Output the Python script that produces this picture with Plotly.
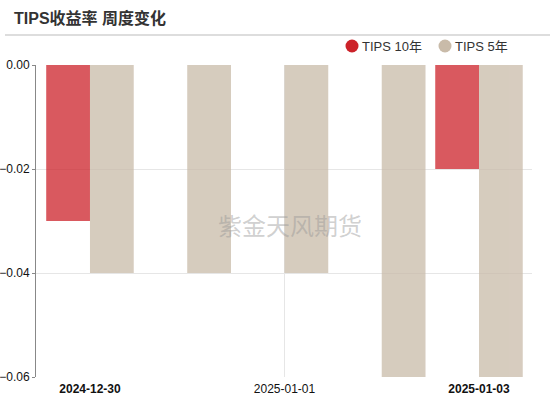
import plotly.graph_objects as go

categories = ["2024-12-30", "2024-12-31", "2025-01-01", "2025-01-02", "2025-01-03"]
tips10 = [-0.03, 0.0, 0.0, 0.0, -0.02]
tips5 = [-0.04, -0.04, -0.04, -0.06, -0.06]
series_names = ["TIPS 10年", "TIPS 5年"]
x_tickvals = ["2024-12-30", "2025-01-01", "2025-01-03"]
x_ticktext = ["<b>2024-12-30</b>", "2025-01-01", "<b>2025-01-03</b>"]
y_tickvals = [0, -0.02, -0.04, -0.06]

red = "#cc2229"
beige = "#c9bba9"
font_family = "Liberation Sans, Arial, Noto Sans CJK SC, sans-serif"

W, H = 550, 399
L, R, T, B = 36, 18, 65, 22
PW, PH = W - L - R, H - T - B


def px(x):
    return (x - L) / PW


def py(y):
    return (H - B - y) / PH


fig = go.Figure()
fig.add_trace(go.Bar(x=categories, y=tips10, name=series_names[0], marker=dict(color=red, line=dict(width=0)),
                     opacity=0.75, showlegend=False))
fig.add_trace(go.Bar(x=categories, y=tips5, name=series_names[1], marker=dict(color=beige, line=dict(width=0)),
                     opacity=0.75, showlegend=False))

shapes = [
    dict(type="line", xref="x", yref="paper", x0=categories[2], x1=categories[2], y0=0, y1=1,
         line=dict(color="#e6e6e6", width=1), layer="below"),
    dict(type="line", xref="paper", yref="paper", x0=px(5), x1=px(550), y0=py(35), y1=py(35),
         line=dict(color="#bbbbbb", width=1)),
]
annotations = [dict(text="紫金天风期货", xref="paper", yref="paper", x=px(290), y=py(224),
                    showarrow=False, font=dict(size=24, color="rgba(150,150,150,0.45)",
                                               family="Noto Sans CJK SC, sans-serif"))]

# manual legend: circle markers + text
legend_items = [(series_names[0], red, 352, 360), (series_names[1], beige, 445, 453)]
for name, col, cx, tx in legend_items:
    r = 6.5
    shapes.append(dict(type="circle", xref="paper", yref="paper", x0=px(cx - r), x1=px(cx + r),
                       y0=py(46 + r), y1=py(46 - r), fillcolor=col, line=dict(width=0)))
    annotations.append(dict(text=name, xref="paper", yref="paper", x=px(tx), y=py(46), xanchor="left",
                            yanchor="middle", showarrow=False, font=dict(size=13, color="#333")))

fig.update_layout(
    width=W, height=H,
    margin=dict(l=L, r=R, t=T, b=B),
    paper_bgcolor="white", plot_bgcolor="white",
    barmode="group", bargap=0.1, bargroupgap=0,
    showlegend=False,
    font=dict(family=font_family, size=12, color="#333"),
    title=dict(text="<b>TIPS收益率 周度变化</b>", x=14 / W, xanchor="left", y=1 - 18 / H, yanchor="middle",
               font=dict(size=16, color="#333", family=font_family)),
    xaxis=dict(type="category", range=[-0.555, 4.545], tickmode="array", tickvals=x_tickvals,
               ticktext=x_ticktext, showgrid=False, showline=False, ticks="", automargin=False,
               ticklabelstandoff=3, tickfont=dict(size=12, color="#111")),
    yaxis=dict(range=[-0.06, 0], tickvals=y_tickvals, tickformat=".2f", showgrid=True,
               gridcolor="#e6e6e6", zeroline=False, showline=True, linecolor="#888", linewidth=1,
               ticks="outside", ticklen=3, tickcolor="#888", automargin=False,
               tickfont=dict(size=12, color="#111")),
    shapes=shapes,
    annotations=annotations,
)

fig.write_html("out.html", config={"displayModeBar": False},
               post_script="document.body.style.margin='0';document.body.style.overflow='hidden';")
